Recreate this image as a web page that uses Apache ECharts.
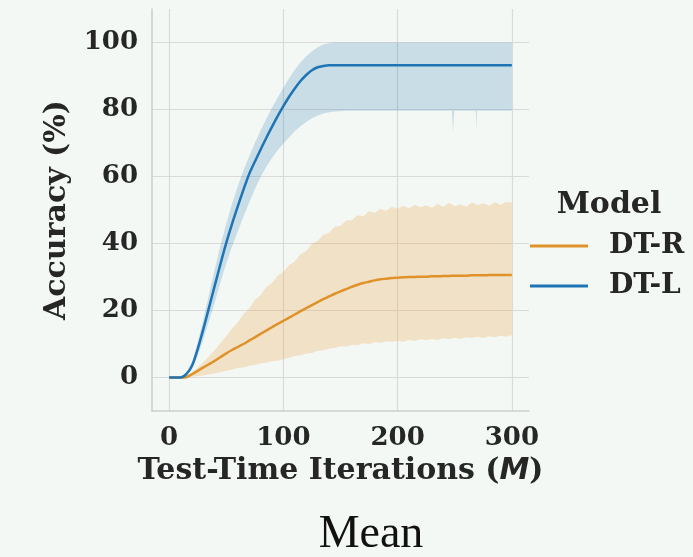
<!DOCTYPE html>
<html>
<head>
<meta charset="utf-8">
<script src="https://cdn.jsdelivr.net/npm/echarts@6/dist/echarts.min.js"></script>
<style>
  html, body { margin: 0; padding: 0; background: #f4f8f4; }
  #chart { width: 693px; height: 557px; }
</style>
</head>
<body>
<div id="chart"></div>
<script>
// test-time iterations (x)
const iters = [0,5,10,15,20,25,30,35,40,45,50,55,60,65,70,75,80,85,90,95,
  100,105,110,115,120,125,130,135,140,145,150,155,160,165,170,175,180,185,190,195,
  200,205,210,215,220,225,230,235,240,245,250,255,260,265,270,275,280,285,290,295,300];

// DT-R (recurrent) mean and spread
const dtrMean = [0,0,0,0.1,1.0,2.0,3.0,4.0,5.0,6.1,
  7.2,8.2,9.1,10.0,11.0,12.0,13.0,14.0,15.0,16.0,
  16.9,17.9,18.8,19.8,20.7,21.6,22.5,23.4,24.2,25.0,
  25.7,26.4,27.1,27.7,28.2,28.6,29.0,29.3,29.5,29.7,
  29.8,29.9,30.0,30.0,30.1,30.1,30.2,30.2,30.3,30.3,
  30.4,30.4,30.4,30.5,30.5,30.5,30.6,30.6,30.6,30.6,30.6];
const dtrLow = [0,0,0,0,0.2,0.4,0.6,0.9,1.2,1.6,
  2.0,2.3,2.8,3.0,3.5,3.7,4.2,4.4,4.9,5.0,
  5.5,5.8,6.4,6.6,7.2,7.3,7.9,8.1,8.6,8.8,
  9.3,9.2,9.8,9.6,10.2,10.0,10.6,10.3,10.8,10.6,
  11.0,10.7,11.2,10.9,11.4,11.1,11.5,11.2,11.7,11.4,
  11.9,11.5,12.0,11.8,12.2,11.8,12.3,12.0,12.5,12.2,12.6];
const dtrHigh = [0,0,0,0.2,1.4,3.0,4.6,6.4,8.2,10.3,
  12.3,14.6,16.4,18.9,20.6,23.1,24.6,27.0,28.2,30.4,
  31.6,33.6,34.7,36.8,37.8,39.9,40.8,42.6,43.2,45.0,
  45.3,46.9,47.0,48.4,48.2,49.6,49.2,50.4,49.8,51.0,
  50.4,51.3,50.5,51.6,50.8,51.4,50.7,51.8,51.0,52.2,
  51.1,51.7,51.0,52.3,51.4,52.0,51.3,52.4,51.6,52.5,52.2];

// DT-L (recall) mean and spread
const dtlMean = [0,0,0,1.0,3.5,8.5,14.5,21.0,27.5,34.0,
  40.2,45.8,51.0,56.0,60.7,64.4,68.0,71.5,74.8,78.0,
  81.0,83.8,86.3,88.5,90.3,91.7,92.6,93.0,93.2,93.2,
  93.2,93.2,93.2,93.2,93.2,93.2,93.2,93.2,93.2,93.2,
  93.2,93.2,93.2,93.2,93.2,93.2,93.2,93.2,93.2,93.2,
  93.2,93.2,93.2,93.2,93.2,93.2,93.2,93.2,93.2,93.2,93.2];
const dtlBandIters = [0,5,10,15,20,25,30,35,40,45,50,55,60,65,70,75,80,85,90,95,
  100,105,110,115,120,125,130,135,140,145,150,155,160,165,170,175,180,185,190,195,
  200,205,210,215,220,225,230,235,240,245,247.5,248.5,249.5,250,255,260,265,
  268.5,269,269.5,270,275,280,285,290,295,300];
const dtlLow = [0,0,0,0.5,2.5,6.5,11.5,17.0,22.5,28.5,
  34.0,39.0,43.5,48.0,52.2,56.2,59.8,62.8,65.5,67.8,
  69.8,71.7,73.5,75.0,76.3,77.4,78.2,78.8,79.2,79.4,
  79.5,79.6,79.6,79.6,79.6,79.6,79.6,79.6,79.6,79.6,
  79.6,79.6,79.6,79.6,79.6,79.6,79.6,79.6,79.6,79.6,
  79.6,73.2,79.6,79.6,79.6,79.6,79.6,
  79.6,73.5,79.6,79.6,79.6,79.6,79.6,79.6,79.6,79.6];
const dtlHigh = [0,0,0,1.5,4.5,10.5,17.5,25.0,32.5,39.5,
  46.0,51.8,57.0,61.8,66.0,70.0,73.7,77.2,80.5,83.6,
  86.5,89.3,91.9,94.1,95.9,97.4,98.6,99.4,99.8,100,
  100,100,100,100,100,100,100,100,100,100,
  100,100,100,100,100,100,100,100,100,100,
  100,100,100,100,100,100,100,
  100,100,100,100,100,100,100,100,100,100];

const xTicks = [0, 100, 200, 300];
const yTicks = [0, 20, 40, 60, 80, 100];

const serif = '"DejaVu Serif"';
const ink = '#262626';
const gridColor = '#dadada';
const spineColor = '#cdcdcd';

function pairs(xs, ys) {
  return xs.map(function (x, i) { return [x, ys[i]]; });
}

// shaded spread between lo and hi, drawn through the axis scales
function band(name, xs, lo, hi, fill) {
  return {
    type: 'custom',
    name: name,
    silent: true,
    z: 1,
    data: [[0, 0]],
    renderItem: function (params, api) {
      const pts = [];
      for (let i = 0; i < xs.length; i++) pts.push(api.coord([xs[i], hi[i]]));
      for (let i = xs.length - 1; i >= 0; i--) pts.push(api.coord([xs[i], lo[i]]));
      return { type: 'polygon', shape: { points: pts }, style: { fill: fill } };
    }
  };
}

const chart = echarts.init(document.getElementById('chart'));
chart.setOption({
  backgroundColor: '#f4f8f4',
  animation: false,
  grid: { left: 152, right: 164, top: 9, bottom: 146 },
  xAxis: {
    type: 'value', min: -15, max: 315,
    name: '{a|Test-Time Iterations (}{m|M}{a|)}',
    nameLocation: 'middle', nameGap: 40,
    nameTextStyle: {
      rich: {
        a: { fontFamily: serif, fontWeight: 'bold', fontSize: 30, color: ink },
        m: { fontFamily: '"DejaVu Sans"', fontStyle: 'italic', fontWeight: 'bold', fontSize: 30, color: ink }
      }
    },
    axisLine: { show: true, onZero: false, lineStyle: { color: spineColor, width: 1.5 } },
    axisTick: { show: false, customValues: xTicks },
    axisLabel: { customValues: xTicks, margin: 14, fontFamily: serif, fontWeight: 'bold', fontSize: 26, color: ink },
    splitLine: { show: true, lineStyle: { color: gridColor, width: 1.2 } }
  },
  yAxis: {
    type: 'value', min: -10, max: 110,
    name: 'Accuracy (%)',
    nameLocation: 'middle', nameGap: 80, nameRotate: 90,
    nameTextStyle: { fontFamily: serif, fontWeight: 'bold', fontSize: 30, color: ink },
    axisLine: { show: true, onZero: false, lineStyle: { color: spineColor, width: 1.5 } },
    axisTick: { show: false, customValues: yTicks },
    axisLabel: { customValues: yTicks, margin: 14, fontFamily: serif, fontWeight: 'bold', fontSize: 26, color: ink },
    splitLine: { show: true, lineStyle: { color: gridColor, width: 1.2 } }
  },
  legend: {
    data: ['DT-R', 'DT-L'],
    orient: 'vertical', left: 530, top: 231, padding: 0,
    icon: 'rect', itemWidth: 58, itemHeight: 3, itemGap: 10,
    textStyle: { fontFamily: serif, fontWeight: 'bold', fontSize: 28, color: ink, lineHeight: 30, padding: [0, 0, 0, 16] }
  },
  graphic: [
    { type: 'text', x: 609, y: 205, style: { text: 'Model', fontFamily: serif, fontWeight: 'bold', fontSize: 30, fill: ink, align: 'center', verticalAlign: 'middle' } },
    { type: 'text', x: 371, y: 535, style: { text: 'Mean', fontFamily: '"Liberation Serif"', fontSize: 46, fill: '#111', align: 'center', verticalAlign: 'middle' } }
  ],
  series: [
    band('DT-R band', iters, dtrLow, dtrHigh, 'rgba(230,150,40,0.22)'),
    band('DT-L band', dtlBandIters, dtlLow, dtlHigh, 'rgba(31,116,181,0.2)'),
    {
      type: 'line', name: 'DT-R', z: 3, symbol: 'none', smooth: 0.3,
      data: pairs(iters, dtrMean),
      itemStyle: { color: '#e0922a' },
      lineStyle: { color: '#e0922a', width: 2.5 }
    },
    {
      type: 'line', name: 'DT-L', z: 3, symbol: 'none', smooth: 0.3,
      data: pairs(iters, dtlMean),
      itemStyle: { color: '#1f74b5' },
      lineStyle: { color: '#1f74b5', width: 2.5 }
    }
  ]
});
</script>
</body>
</html>
